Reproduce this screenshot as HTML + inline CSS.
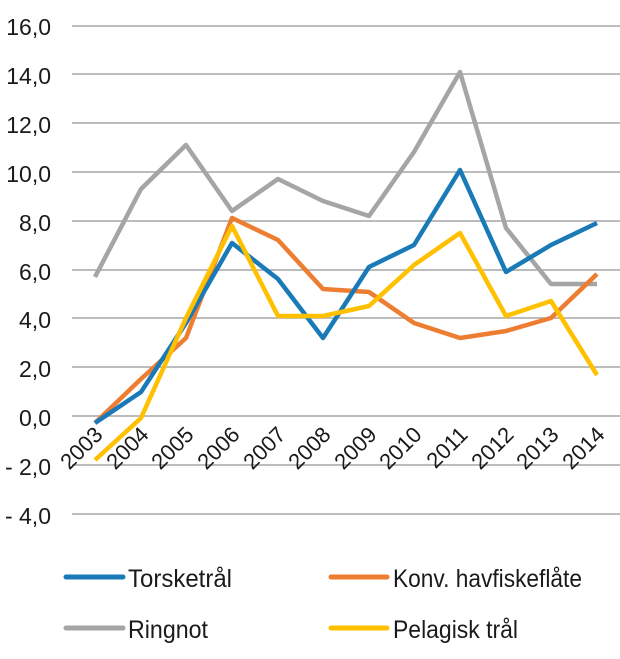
<!DOCTYPE html>
<html><head><meta charset="utf-8"><style>body{margin:0;background:#fff}</style></head>
<body>
<svg width="620" height="654" xmlns="http://www.w3.org/2000/svg" font-family="Liberation Sans, sans-serif">
<g stroke="#a6a6a6" stroke-width="1.5">
<line x1="72" x2="620" y1="26" y2="26"/><line x1="72" x2="620" y1="74" y2="74"/>
<line x1="72" x2="620" y1="123" y2="123"/><line x1="72" x2="620" y1="172" y2="172"/>
<line x1="72" x2="620" y1="221" y2="221"/><line x1="72" x2="620" y1="270" y2="270"/>
<line x1="72" x2="620" y1="318" y2="318"/><line x1="72" x2="620" y1="367" y2="367"/>
<line x1="72" x2="620" y1="416" y2="416"/><line x1="72" x2="620" y1="465" y2="465"/>
<line x1="72" x2="620" y1="514" y2="514"/>
</g>
<g font-size="23" fill="#1a1a1a" text-anchor="end">
<text x="51" y="35">16,0</text><text x="51" y="84">14,0</text><text x="51" y="133">12,0</text>
<text x="51" y="182">10,0</text><text x="51" y="231">8,0</text><text x="51" y="280">6,0</text>
<text x="51" y="328">4,0</text><text x="51" y="377">2,0</text><text x="51" y="426">0,0</text>
<text x="51" y="475">- 2,0</text><text x="51" y="524">- 4,0</text>
</g>
<g font-size="22" fill="#1a1a1a" text-anchor="end">
<text transform="translate(104,436) rotate(-45)">2003</text>
<text transform="translate(150,436) rotate(-45)">2004</text>
<text transform="translate(195,436) rotate(-45)">2005</text>
<text transform="translate(241,436) rotate(-45)">2006</text>
<text transform="translate(287,436) rotate(-45)">2007</text>
<text transform="translate(332,436) rotate(-45)">2008</text>
<text transform="translate(378,436) rotate(-45)">2009</text>
<text transform="translate(423,436) rotate(-45)">2010</text>
<text transform="translate(469,436) rotate(-45)">2011</text>
<text transform="translate(515,436) rotate(-45)">2012</text>
<text transform="translate(560,436) rotate(-45)">2013</text>
<text transform="translate(606,436) rotate(-45)">2014</text>
</g>
<g fill="none" stroke-width="4.5" stroke-linejoin="round">
<polyline stroke="#a5a5a5" points="95,277 141,189 186,145 232,211 278,179 323,201 369,216 414,152 460,72 506,228 551,284 597,284"/>
<polyline stroke="#ed7d31" points="95,423 141,379 186,338 232,218 278,240 323,289 369,292 414,323 460,338 506,331 551,318 597,274"/>
<polyline stroke="#1a7ab8" points="95,423 141,392 186,323 232,243 278,279 323,338 369,267 414,245 460,170 506,272 551,245 597,223"/>
<polyline stroke="#ffc000" points="95,460 141,418 186,318 232,226 278,316 323,316 369,306 414,265 460,233 506,316 551,301 597,375"/>
</g>
<g stroke-width="5" stroke-linecap="round">
<line x1="66" x2="123" y1="577" y2="577" stroke="#1a7ab8"/>
<line x1="331" x2="387" y1="577" y2="577" stroke="#ed7d31"/>
<line x1="66" x2="123" y1="628" y2="628" stroke="#a5a5a5"/>
<line x1="331" x2="387" y1="628" y2="628" stroke="#ffc000"/>
</g>
<g font-size="25" fill="#1a1a1a">
<text x="128" y="587" textLength="104" lengthAdjust="spacingAndGlyphs">Torsketrål</text>
<text x="393" y="587" textLength="189" lengthAdjust="spacingAndGlyphs">Konv. havfiskeflåte</text>
<text x="128" y="638" textLength="80" lengthAdjust="spacingAndGlyphs">Ringnot</text>
<text x="393" y="638" textLength="125" lengthAdjust="spacingAndGlyphs">Pelagisk trål</text>
</g>
</svg>
</body></html>
